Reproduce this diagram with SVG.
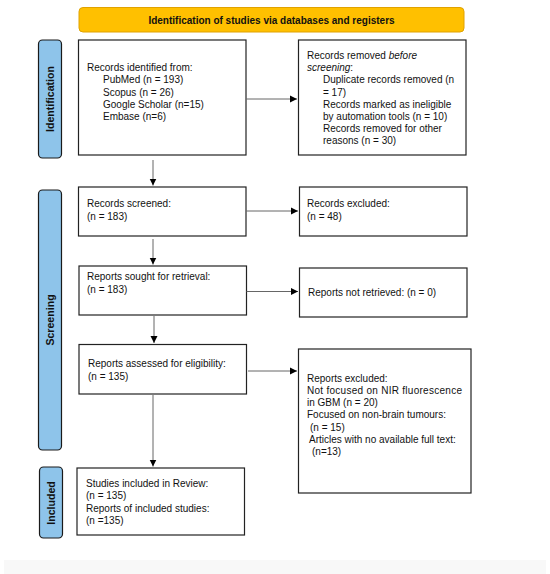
<svg xmlns="http://www.w3.org/2000/svg" width="550" height="574" viewBox="0 0 550 574">
<defs>
<marker id="ah" markerWidth="8" markerHeight="8" refX="7" refY="4" orient="auto" markerUnits="userSpaceOnUse">
<path d="M0,0.5 L7,4 L0,7.5 Z" fill="#000"/>
</marker>
<style>
.box{fill:#fff;stroke:#222;stroke-width:1.2}
.side{fill:#8EC4EA;stroke:#1a1a1a;stroke-width:1.2}
.t{font-family:"Liberation Sans",Arial,sans-serif;font-size:10px;fill:#111}
.sl{font-family:"Liberation Sans",Arial,sans-serif;font-size:10.6px;font-weight:bold;fill:#111;text-anchor:middle}
.c{stroke:#666;stroke-width:1;fill:none;marker-end:url(#ah)}
</style>
</defs>
<rect x="0" y="0" width="550" height="574" fill="#fff"/>
<rect x="4" y="560" width="542" height="14" fill="#f8f8f8"/>
<g id="title">
<rect x="79" y="7.5" width="385" height="24.5" rx="4" fill="#FFC000" stroke="#E0A200" stroke-width="1"/>
<text x="271.5" y="23.5" class="t" style="font-weight:bold;text-anchor:middle">Identification of studies via databases and registers</text>
</g>
<g id="label-identification">
<rect x="38.5" y="40" width="23" height="118" rx="4" class="side"/>
<text transform="translate(53.5,99) rotate(-90)" class="sl">Identification</text>
</g>
<g id="label-screening">
<rect x="38.5" y="190" width="23" height="260" rx="4" class="side"/>
<text transform="translate(53.5,320) rotate(-90)" class="sl">Screening</text>
</g>
<g id="label-included">
<rect x="39.5" y="467" width="23" height="71" rx="4" class="side"/>
<text transform="translate(54.5,503) rotate(-90)" class="sl">Included</text>
</g>
<g id="records-identified">
<rect x="78.5" y="40" width="167.5" height="115" class="box"/>
<text class="t" x="87" y="71">Records identified from:</text>
<text class="t" x="103" y="83.3">PubMed (n = 193)</text>
<text class="t" x="103" y="95.6">Scopus (n = 26)</text>
<text class="t" x="103" y="107.9">Google Scholar (n=15)</text>
<text class="t" x="103" y="120.2">Embase (n=6)</text>
</g>
<g id="records-removed">
<rect x="298.5" y="40" width="167.5" height="115" class="box"/>
<text class="t" x="307" y="59">Records removed <tspan font-style="italic">before</tspan></text>
<text class="t" x="307" y="71.2"><tspan font-style="italic">screening</tspan>:</text>
<text class="t" x="323" y="83.4">Duplicate records removed (n</text>
<text class="t" x="323" y="95.6">= 17)</text>
<text class="t" x="323" y="107.8">Records marked as ineligible</text>
<text class="t" x="323" y="120">by automation tools (n = 10)</text>
<text class="t" x="323" y="132.2">Records removed for other</text>
<text class="t" x="323" y="144.4">reasons (n = 30)</text>
</g>
<g id="records-screened">
<rect x="78.5" y="187" width="167.5" height="49" class="box"/>
<text class="t" x="87" y="207">Records screened:</text>
<text class="t" x="87" y="220">(n = 183)</text>
</g>
<g id="records-excluded">
<rect x="299.5" y="187" width="167.5" height="49" class="box"/>
<text class="t" x="307" y="207">Records excluded:</text>
<text class="t" x="307" y="220">(n = 48)</text>
</g>
<g id="reports-sought">
<rect x="79" y="266" width="167.5" height="49" class="box"/>
<text class="t" x="87" y="280">Reports sought for retrieval:</text>
<text class="t" x="87" y="292.5">(n = 183)</text>
</g>
<g id="reports-not-retrieved">
<rect x="299.5" y="268" width="167.5" height="49" class="box"/>
<text class="t" x="308" y="296">Reports not retrieved: (n = 0)</text>
</g>
<g id="reports-assessed">
<rect x="79" y="344.5" width="167.5" height="49.5" class="box"/>
<text class="t" x="88" y="367">Reports assessed for eligibility:</text>
<text class="t" x="88" y="379.5">(n = 135)</text>
</g>
<g id="reports-excluded">
<rect x="298.5" y="349" width="172.5" height="144" class="box"/>
<text class="t" x="307" y="381.5">Reports excluded:</text>
<text class="t" x="307" y="393.5" textLength="155" lengthAdjust="spacing">Not focused on NIR fluorescence</text>
<text class="t" x="307" y="406">in GBM (n = 20)</text>
<text class="t" x="307" y="418.2">Focused on non-brain tumours:</text>
<text class="t" x="310" y="430.6">(n = 15)</text>
<text class="t" x="309" y="442.8">Articles with no available full text:</text>
<text class="t" x="312" y="455">(n=13)</text>
</g>
<g id="studies-included">
<rect x="77" y="468" width="167.5" height="67" class="box"/>
<text class="t" x="86" y="487">Studies included in Review:</text>
<text class="t" x="86" y="499.3">(n = 135)</text>
<text class="t" x="86" y="511.6">Reports of included studies:</text>
<text class="t" x="86" y="523.9">(n =135)</text>
</g>
<g id="connectors">
<line class="c" x1="246" y1="99" x2="297" y2="99"/>
<line class="c" x1="153" y1="160" x2="153" y2="185.5"/>
<line class="c" x1="246" y1="211" x2="298" y2="211"/>
<line class="c" x1="153" y1="239" x2="153" y2="264.5"/>
<line class="c" x1="246.5" y1="291.5" x2="298" y2="291.5"/>
<line class="c" x1="154" y1="316" x2="154" y2="343"/>
<line class="c" x1="248" y1="371" x2="297" y2="371"/>
<line class="c" x1="153" y1="395" x2="153" y2="466.5"/>
</g>
</svg>
